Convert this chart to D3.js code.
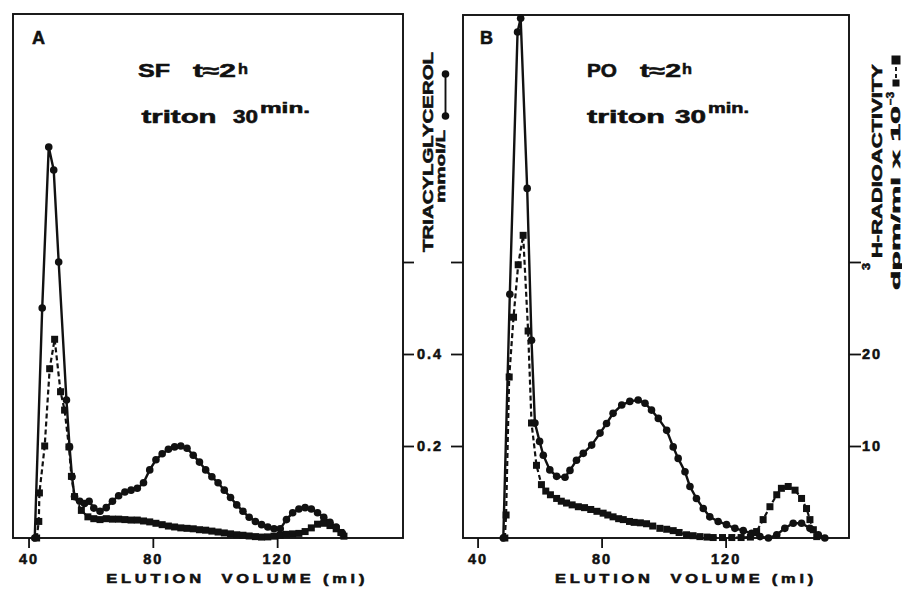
<!DOCTYPE html>
<html>
<head>
<meta charset="utf-8">
<script src="https://cdn.jsdelivr.net/npm/d3@7"></script>
<style>
  body { margin: 0; background: #fff; }
  svg { display: block; }
  text { font-family: "Liberation Sans", Arial, sans-serif; font-weight: bold; fill: #111; stroke: #111; stroke-width: 0.55px; }
</style>
</head>
<body>
<div id="chart"></div>
<script>
// panel A (SF) : elution volume (ml) and triacylglycerol (mmol/L)
var tgVolA = [42, 44.4, 46.5, 48.1, 49.7, 52.2, 53.2, 54, 54.8, 56.5, 58, 59.5, 61, 63, 65, 67, 69, 71, 73, 75, 77, 79, 81, 83, 85, 87, 89, 91, 93, 95, 97, 99, 101, 103, 105, 107, 109, 111, 113, 115, 117, 119, 121, 123, 125, 127, 129, 131, 133, 135, 137, 139, 141];
var tgValA = [0, 0.50, 0.85, 0.80, 0.60, 0.30, 0.198, 0.133, 0.09, 0.08, 0.075, 0.08, 0.065, 0.058, 0.066, 0.08, 0.092, 0.1, 0.104, 0.108, 0.12, 0.148, 0.17, 0.183, 0.193, 0.198, 0.2, 0.195, 0.18, 0.165, 0.148, 0.133, 0.12, 0.104, 0.088, 0.072, 0.058, 0.045, 0.036, 0.029, 0.024, 0.02, 0.02, 0.04, 0.055, 0.063, 0.066, 0.063, 0.055, 0.045, 0.034, 0.024, 0.01];
// panel A : 3H radioactivity (dpm/ml x 10^-3)
var radVolA = [42.6, 43.3, 43.5, 45.2, 46.8, 48.4, 50.3, 51.6, 53, 53.8, 54.8, 57, 59.1, 61, 63, 65, 67, 69, 71, 73, 75, 77, 79, 81, 83, 85, 87, 89, 91, 93, 95, 97, 99, 101, 103, 105, 107, 109, 111, 113, 115, 117, 119, 121, 123, 125, 127, 129, 131, 133, 135, 137, 139, 140.5, 141.5];
var radValA = [0, 1.8, 4.9, 10, 18.4, 21.6, 15.9, 13.9, 9.9, 6.7, 4.5, 3.0, 2.3, 2.1, 2.0, 2.1, 2.05, 2.05, 2.0, 1.95, 1.95, 1.85, 1.75, 1.6, 1.45, 1.3, 1.2, 1.1, 1.05, 1.0, 0.9, 0.85, 0.75, 0.65, 0.55, 0.45, 0.35, 0.3, 0.22, 0.15, 0.1, 0.12, 0.2, 0.3, 0.4, 0.45, 0.5, 0.7, 1.1, 1.5, 1.6, 1.35, 1.0, 0.6, 0.2];

// panel B (PO)
var tgVolB = [48.3, 50.4, 52.9, 53.9, 56, 57.4, 58.5, 60, 61.2, 63.3, 65.5, 68.2, 69.8, 71.9, 74.1, 76.8, 79.5, 81.6, 83.7, 86.5, 89.1, 91.8, 94, 96.1, 98.3, 101, 103.1, 104.7, 106.9, 108.5, 110.6, 112.8, 114.9, 117.6, 120.3, 123, 125.7, 128.4, 131.1, 133.8, 136.5, 139.1, 141.8, 144.5, 147.2, 149.9, 152];
var tgValB = [0, 0.53, 1.1, 1.13, 0.76, 0.43, 0.25, 0.21, 0.18, 0.148, 0.134, 0.132, 0.147, 0.169, 0.184, 0.202, 0.228, 0.249, 0.271, 0.289, 0.297, 0.3, 0.293, 0.278, 0.26, 0.234, 0.198, 0.173, 0.144, 0.112, 0.086, 0.064, 0.046, 0.036, 0.029, 0.021, 0.016, 0.01, 0.003, 0, 0.007, 0.021, 0.032, 0.032, 0.021, 0.007, 0];
var radVolB = [48.8, 49.2, 50.2, 51.6, 53.1, 54.7, 56.3, 57.4, 59, 60.6, 62, 63.5, 65.5, 67, 68.7, 70.5, 72.5, 74.5, 76.5, 78.5, 80.5, 82, 83.7, 85.5, 87, 89, 90.5, 92.5, 94.5, 96.5, 98.8, 101, 103.1, 105, 107.4, 109.5, 111.7, 114, 116, 119, 122, 125, 128, 130, 132.1, 134.3, 136.5, 138, 140.2, 142.4, 144.5, 146.1, 147.2, 148.3, 149.4];
var radValB = [0, 2.5, 17.5, 24, 29.7, 32.9, 22.5, 12.5, 7.9, 5.8, 5.1, 4.7, 4.3, 4.0, 3.8, 3.6, 3.4, 3.3, 3.1, 2.9, 2.7, 2.5, 2.3, 2.1, 2.0, 1.8, 1.7, 1.65, 1.55, 1.3, 1.05, 0.95, 0.8, 0.6, 0.35, 0.25, 0.15, 0.1, 0.05, 0.05, 0.05, 0.05, 0.1, 0.7, 2.0, 3.4, 4.7, 5.4, 5.6, 5.2, 4.3, 3.2, 2.0, 0.9, 0.15];

var xTicks = [40, 80, 120];
var tgTicks = [0.2, 0.4, 0.6];
var radTicks = [10, 20, 30];
var unlabeledTg = 0.6, unlabeledRad = 30;

var width = 902, height = 589;
var plotBottom = 538;

var svg = d3.select("#chart")
    .append("svg")
    .attr("width", width)
    .attr("height", height);

// both quantities share the vertical layout: 0.2 mmol/L == 10 x 10^3 dpm/ml
var yTG = d3.scaleLinear().domain([0, 1]).range([plotBottom, plotBottom - 460]);
var yRad = d3.scaleLinear().domain([0, 50]).range([plotBottom, plotBottom - 460]);

var panels = [
    { name: "A", left: 13, right: 403, top: 14, domain: [35, 160.5],
      tgVol: tgVolA, tgVal: tgValA, radVol: radVolA, radVal: radValA },
    { name: "B", left: 463, right: 849, top: 15, domain: [35.3, 159.8],
      tgVol: tgVolB, tgVal: tgValB, radVol: radVolB, radVal: radValB }
];

function styleAxis(g) {
    g.select(".domain").remove();
    g.selectAll(".tick line").attr("stroke", "#111").attr("stroke-width", 1.8);
    g.selectAll(".tick text")
        .attr("fill", "#111")
        .style("font-size", "14.5px")
        .style("letter-spacing", "2px");
}

panels.forEach(function (p) {
    var x = d3.scaleLinear().domain(p.domain).range([p.left, p.right]);
    var g = svg.append("g").attr("class", "panel" + p.name);

    // frame
    g.append("rect")
        .attr("x", p.left)
        .attr("y", p.top)
        .attr("width", p.right - p.left)
        .attr("height", plotBottom - p.top)
        .attr("fill", "none")
        .attr("stroke", "#111")
        .attr("stroke-width", 1.9);

    g.append("g")
        .attr("transform", "translate(0," + plotBottom + ")")
        .call(d3.axisBottom(x).tickValues(xTicks).tickSize(10).tickPadding(6).tickFormat(d3.format("d")))
        .call(styleAxis);

    if (p.name === "A") {
        g.append("g")
            .attr("transform", "translate(" + p.right + ",0)")
            .call(d3.axisRight(yTG).tickValues(tgTicks).tickSize(11).tickPadding(3)
                .tickFormat(function (d) { return d === unlabeledTg ? "" : d3.format(".1f")(d); }))
            .call(styleAxis);
    } else {
        g.append("g")
            .attr("transform", "translate(" + p.left + ",0)")
            .call(d3.axisLeft(yTG).tickValues(tgTicks).tickSize(12).tickFormat(""))
            .call(styleAxis);
        g.append("g")
            .attr("transform", "translate(" + p.right + ",0)")
            .call(d3.axisRight(yRad).tickValues(radTicks).tickSize(12).tickPadding(1)
                .tickFormat(function (d) { return d === unlabeledRad ? "" : d; }))
            .call(styleAxis);
    }

    var tg = d3.zip(p.tgVol, p.tgVal);
    var rad = d3.zip(p.radVol, p.radVal);

    var tgLine = d3.line().x(function (d) { return x(d[0]); }).y(function (d) { return yTG(d[1]); });
    var radLine = d3.line().x(function (d) { return x(d[0]); }).y(function (d) { return yRad(d[1]); });

    g.append("path")
        .datum(rad)
        .attr("d", radLine)
        .attr("fill", "none")
        .attr("stroke", "#111")
        .attr("stroke-width", 2.2)
        .attr("stroke-dasharray", "5,3");

    g.selectAll(".radpt")
        .data(rad)
        .enter().append("rect")
        .attr("class", "radpt")
        .attr("x", function (d) { return x(d[0]) - 3.5; })
        .attr("y", function (d) { return yRad(d[1]) - 3.5; })
        .attr("width", 7)
        .attr("height", 7)
        .attr("fill", "#111");

    g.append("path")
        .datum(tg)
        .attr("d", tgLine)
        .attr("fill", "none")
        .attr("stroke", "#111")
        .attr("stroke-width", 2.4);

    g.selectAll(".tgpt")
        .data(tg)
        .enter().append("circle")
        .attr("class", "tgpt")
        .attr("cx", function (d) { return x(d[0]); })
        .attr("cy", function (d) { return yTG(d[1]); })
        .attr("r", 3.8)
        .attr("fill", "#111");

    // x axis title, wide lettering
    g.append("text")
        .attr("x", x(65))
        .attr("y", 583)
        .attr("xml:space", "preserve")
        .style("white-space", "pre")
        .style("font-size", "13px")
        .style("letter-spacing", "3px")
        .attr("textLength", 262)
        .attr("lengthAdjust", "spacingAndGlyphs")
        .text("ELUTION  VOLUME (ml)");
});

// panel letters and conditions
var notes = [
    { t: "A", x: 32, y: 44, size: 18, len: 13 },
    { t: "SF", x: 138, y: 77, size: 18, len: 32 },
    { t: "t\u22482", x: 193, y: 77, size: 18, len: 43 },
    { t: "h", x: 238, y: 74, size: 15, len: 10 },
    { t: "triton", x: 141.5, y: 123, size: 18, len: 75 },
    { t: "30", x: 233, y: 123, size: 18, len: 25 },
    { t: "min.", x: 260, y: 113, size: 14.5, len: 50 },
    { t: "B", x: 480, y: 44, size: 18, len: 13 },
    { t: "PO", x: 587, y: 77, size: 18, len: 30 },
    { t: "t\u22482", x: 640, y: 77, size: 18, len: 41 },
    { t: "h", x: 682, y: 74, size: 15, len: 10 },
    { t: "triton", x: 587, y: 123, size: 18, len: 78 },
    { t: "30", x: 675, y: 123, size: 18, len: 31 },
    { t: "min.", x: 708, y: 113, size: 14.5, len: 41 }
];

svg.selectAll(".note")
    .data(notes)
    .enter().append("text")
    .attr("class", "note")
    .attr("x", function (d) { return d.x; })
    .attr("y", function (d) { return d.y; })
    .attr("textLength", function (d) { return d.len; })
    .attr("lengthAdjust", "spacingAndGlyphs")
    .style("font-size", function (d) { return d.size + "px"; })
    .text(function (d) { return d.t; });

// rotated axis titles: x,y is the lower end of the baseline
var vtitles = [
    { t: "TRIACYLGLYCEROL", x: 433, y: 252, size: 14, len: 200 },
    { t: "mmol/L", x: 445, y: 203, size: 13, len: 73 },
    { t: "3", x: 870, y: 270, size: 10, len: 7 },
    { t: "H-RADIOACTIVITY", x: 882, y: 258, size: 14, len: 194 },
    { t: "dpm/ml x 10", x: 900, y: 290, size: 13.5, len: 184 },
    { t: "\u22123", x: 894, y: 105, size: 10, len: 13 }
];

svg.selectAll(".vtitle")
    .data(vtitles)
    .enter().append("text")
    .attr("class", "vtitle")
    .attr("transform", function (d) { return "translate(" + d.x + "," + d.y + ") rotate(-90)"; })
    .attr("textLength", function (d) { return d.len; })
    .attr("lengthAdjust", "spacingAndGlyphs")
    .style("font-size", function (d) { return d.size + "px"; })
    .text(function (d) { return d.t; });

// key: solid line with dots (triacylglycerol)
svg.append("line")
    .attr("x1", 445.5).attr("x2", 445.5)
    .attr("y1", 74).attr("y2", 116)
    .attr("stroke", "#111").attr("stroke-width", 1.9);
svg.selectAll(".keydot")
    .data([74, 116])
    .enter().append("circle")
    .attr("cx", 445.5)
    .attr("cy", function (d) { return d; })
    .attr("r", 3.8)
    .attr("fill", "#111");

// key: dashed line with squares (radioactivity)
svg.append("line")
    .attr("x1", 896).attr("x2", 896)
    .attr("y1", 60).attr("y2", 83)
    .attr("stroke", "#111").attr("stroke-width", 1.9)
    .attr("stroke-dasharray", "4,3");
svg.selectAll(".keysq")
    .data([[60, 9], [83, 7]])
    .enter().append("rect")
    .attr("x", function (d) { return 896 - d[1] / 2; })
    .attr("y", function (d) { return d[0] - d[1] / 2; })
    .attr("width", function (d) { return d[1]; })
    .attr("height", function (d) { return d[1]; })
    .attr("fill", "#111");
</script>
</body>
</html>
